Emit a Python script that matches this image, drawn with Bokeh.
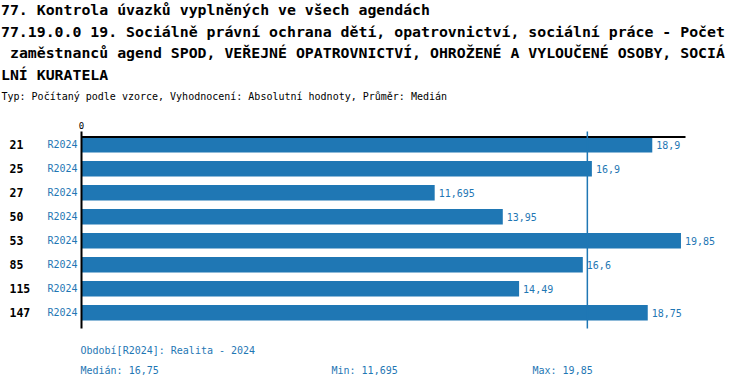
from bokeh.plotting import figure
from bokeh.models import Range1d, ColumnDataSource
from bokeh.core.properties import value
from bokeh.embed import file_html
from bokeh.resources import INLINE

# ---- data ----
title_lines = [
    "77. Kontrola úvazků vyplněných ve všech agendách",
    "77.19.0.0 19. Sociálně právní ochrana dětí, opatrovnictví, sociální práce - Počet",
    "zaměstnanců agend SPOD, VEŘEJNÉ OPATROVNICTVÍ, OHROŽENÉ A VYLOUČENÉ OSOBY, SOCIÁ",
    "LNÍ KURATELA",
]
title_indent = [0, 0, 1, 0]   # leading spaces (in characters)
subtitle = "Typ: Počítaný podle vzorce, Vyhodnocení: Absolutní hodnoty, Průměr: Medián"
categories = ["21", "25", "27", "50", "53", "85", "115", "147"]
series_name = "R2024"
values = [18.9, 16.9, 11.695, 13.95, 19.85, 16.6, 14.49, 18.75]
median_val = 16.75
min_val = 11.695
max_val = 19.85
axis_max = 20
period_text = "Období[R2024]: Realita - 2024"

# ---- layout constants (page pixels) ----
W, H = 750, 388
MARGIN = 0
X0_PX = 81.0        # page x of value 0
SCALE = 30.2        # px per unit
Y0_PX = 144.2       # page y of first row center
PITCH = 24.0        # px per row
TITLE_FS = 14.85
TITLE_CHAR_W = TITLE_FS * 0.602

def vx(px):
    return (px - X0_PX) / SCALE

def vy(py):
    return (py - Y0_PX) / PITCH

BLUE = "#1f77b4"
FONT = value("DejaVu Sans Mono")

def fmt(v):
    return ("%g" % v).replace(".", ",")

p = figure(width=W, height=H, output_backend="svg", toolbar_location=None,
           x_range=Range1d(vx(MARGIN), vx(MARGIN + W)),
           y_range=Range1d(vy(MARGIN + H), vy(MARGIN)),
           min_border=0, outline_line_color=None)
p.axis.visible = False
p.grid.visible = False
p.background_fill_color = "white"
p.border_fill_color = "white"

n = len(categories)
rows = list(range(n))
BAR_H = 0.65

src = ColumnDataSource(dict(
    row=rows, val=values, cat=categories,
    ser=[series_name] * n,
    lab=[fmt(v) for v in values],
))

p.hbar(y="row", left=0, right="val", height=BAR_H, source=src,
       fill_color=BLUE, line_color=None)

# value labels
p.text(x="val", y="row", text="lab", source=src, x_offset=4,
       text_font=FONT, text_font_size="10px", text_color=BLUE,
       text_baseline="middle", text_align="left")

# category labels
p.text(x=vx(9), y="row", text="cat", source=src,
       text_font=FONT, text_font_size="11.5px", text_font_style="bold",
       text_color="black", text_baseline="middle", text_align="left")

# series labels
p.text(x=vx(77), y="row", text="ser", source=src,
       text_font=FONT, text_font_size="10px", text_color=BLUE,
       text_baseline="middle", text_align="right")

# axes
top = -BAR_H / 2
p.segment(x0=[0], y0=[top], x1=[axis_max], y1=[top], line_color="black", line_width=2)
p.segment(x0=[0], y0=[vy(131)], x1=[0], y1=[vy(328)], line_color="black", line_width=2)
p.text(x=[0], y=[vy(125)], text=["0"], text_font=FONT, text_font_size="9px",
       text_color="black", text_align="center", text_baseline="middle")

# median line
p.segment(x0=[median_val], y0=[vy(131)], x1=[median_val], y1=[vy(328)],
          line_color=BLUE, line_width=1.5)

# titles
title_y = [9.5, 31, 52.5, 74]
p.text(x=[vx(0.5 + k * TITLE_CHAR_W) for k in title_indent], y=[vy(t) for t in title_y],
       text=title_lines,
       text_font=FONT, text_font_size="%.2fpx" % TITLE_FS, text_font_style="bold",
       text_color="black", text_baseline="middle", text_align="left")
p.text(x=[vx(1)], y=[vy(96)], text=[subtitle],
       text_font=FONT, text_font_size="10px", text_color="black",
       text_baseline="middle", text_align="left")

# footer
p.text(x=[vx(80)], y=[vy(350)], text=[period_text],
       text_font=FONT, text_font_size="10px", text_color=BLUE,
       text_baseline="middle", text_align="left")
p.text(x=[vx(80), vx(331), vx(532)], y=[vy(370)] * 3,
       text=["Medián: " + fmt(median_val), "Min: " + fmt(min_val), "Max: " + fmt(max_val)],
       text_font=FONT, text_font_size="10px", text_color=BLUE,
       text_baseline="middle", text_align="left")

open("out.html", "w").write(file_html(p, INLINE))
